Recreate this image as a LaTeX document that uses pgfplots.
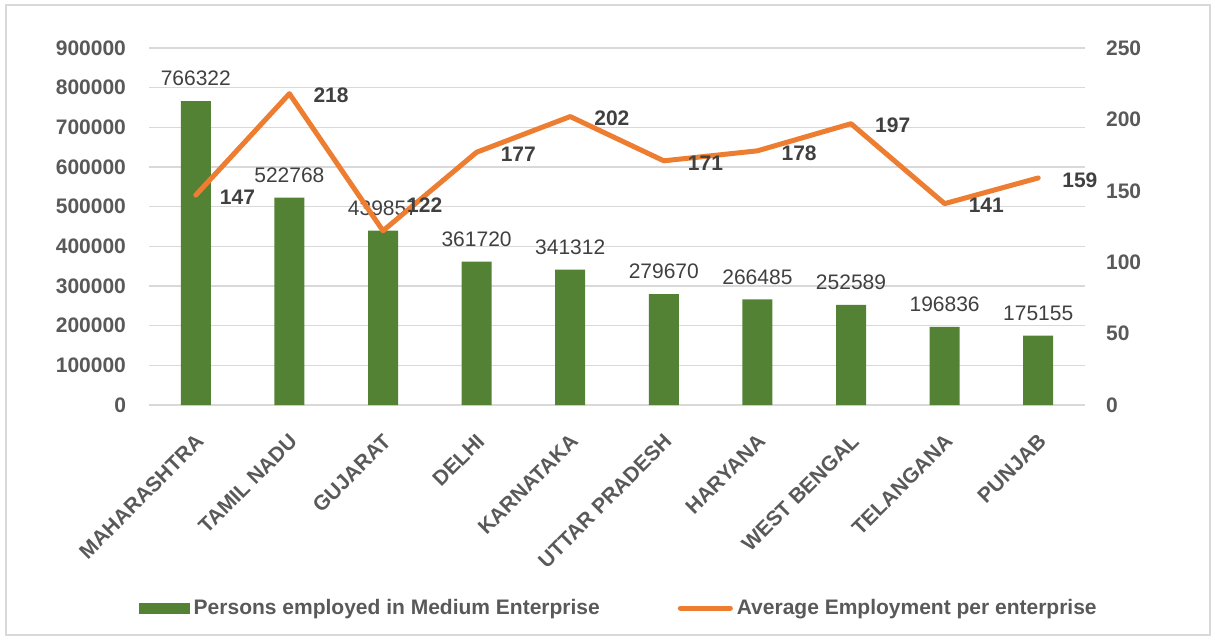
\documentclass[border=0pt]{standalone}
\usepackage{pgfplots}
\pgfplotsset{compat=1.18}
\usepackage{fontspec}
\setmainfont{Liberation Sans}

\definecolor{barGreen}{HTML}{548235}
\definecolor{lineOrange}{HTML}{ED7D31}
\definecolor{txtGray}{HTML}{595959}
\definecolor{lblGray}{HTML}{404040}
\definecolor{gridGray}{HTML}{D9D9D9}

\pgfplotsset{
    shared/.style={
        at={(74.5pt,117pt)}, anchor=south west,
        scale only axis, width=468pt, height=178.5pt,
        xmin=-0.5, xmax=9.5,
        major tick length=0pt,
        axis line style={draw=none},
        /pgf/number format/assume math mode=true,
        /pgf/number format/fixed,
        /pgf/number format/1000 sep={},
        scaled y ticks=false,
        yticklabel style={font=\fontsize{10.5}{12}\selectfont\bfseries, text=txtGray},
    }
}

\begin{document}
\begin{tikzpicture}
\path[use as bounding box] (0pt,0pt) rectangle (607.5pt,319.5pt);
\draw[gridGray, line width=0.8pt] (3pt,2pt) rectangle (605pt,317pt);

% bars: persons employed (left axis)
\begin{axis}[
    shared,
    ymin=0, ymax=900000,
    ytick={0,100000,...,900000},
    ymajorgrids, grid style={gridGray, line width=0.8pt},
    axis x line*=bottom, axis y line*=left,
    yticklabel style={xshift=-8pt},
    xtick={0,...,9},
    xticklabels={MAHARASHTRA,TAMIL NADU,GUJARAT,DELHI,KARNATAKA,UTTAR PRADESH,HARYANA,WEST BENGAL,TELANGANA,PUNJAB},
    xticklabel style={xshift=4.5pt, yshift=-14pt, rotate=45, anchor=east,
        font=\fontsize{10.5}{12}\selectfont\bfseries, text=txtGray},
    ybar, bar width=15pt,
    nodes near coords,
    nodes near coords style={yshift=4pt, font=\fontsize{10.5}{12}\selectfont, text=lblGray},
]
\addplot[fill=barGreen, draw=none] coordinates {
    (0,766322) (1,522768) (2,439857) (3,361720) (4,341312)
    (5,279670) (6,266485) (7,252589) (8,196836) (9,175155)
};
\end{axis}

% line: average employment per enterprise (right axis)
\begin{axis}[
    shared,
    ymin=0, ymax=250,
    ytick={0,50,...,250},
    axis y line*=right, axis x line=none,
    yticklabel style={xshift=7pt},
    legend style={at={(0.503,-0.569)}, anchor=center, draw=none, fill=none,
        font=\fontsize{10.5}{12}\selectfont\bfseries, text=txtGray,
        legend columns=2,
        /tikz/every even column/.append style={column sep=37pt}},
    legend cell align=left,
]
\addlegendimage{legend image code/.code={\fill[barGreen] (0pt,-2.5pt) rectangle (25pt,2.5pt);}}
\addlegendentry{Persons employed in Medium Enterprise}
\addplot[lineOrange, line width=2.5pt, line cap=round, line join=round,
    visualization depends on={x \as \rawx},
    nodes near coords,
    nodes near coords style={anchor=west, xshift=7.5pt,
        yshift={ifthenelse(\rawx==2,13,-1)*1pt},
        font=\fontsize{10.5}{12}\selectfont\bfseries, text=lblGray},
    legend image code/.code={\draw[lineOrange, line width=2.5pt] (0pt,0pt) -- (25pt,0pt);},
] coordinates {
    (0,147) (1,218) (2,122) (3,177) (4,202)
    (5,171) (6,178) (7,197) (8,141) (9,159)
};
\addlegendentry{Average Employment per enterprise}
\end{axis}
\end{tikzpicture}
\end{document}
